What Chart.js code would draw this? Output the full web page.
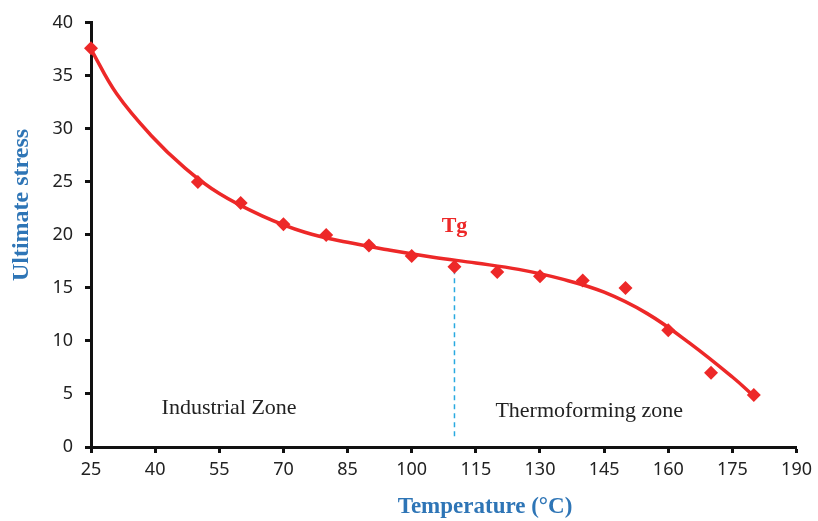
<!DOCTYPE html>
<html lang="en">
<head>
    <meta charset="UTF-8">
    <title>Ultimate stress vs Temperature</title>
    <script src="https://cdn.jsdelivr.net/npm/chart.js"></script>
    <style>
        html, body { margin: 0; padding: 0; background: #fff; }
        #wrap { width: 818px; height: 521px; }
    </style>
</head>
<body>
    <div id="wrap"><canvas id="stress-chart"></canvas></div>

    <script>
        // measured points
        const temps = [25, 50, 60, 70, 80, 90, 100, 110, 120, 130, 140, 150, 160, 170, 180];
        const stress = [37.6, 25, 23, 21, 20, 19, 18, 17, 16.5, 16.1, 15.7, 15, 11, 7, 4.9];

        // trend curve
        const trendTemps = [25, 31, 39, 47, 55, 65, 75, 85, 95, 105, 115, 125, 135, 145, 155, 165, 175, 180];
        const trendStress = [37.5, 33.3, 29.4, 26.3, 23.9, 21.8, 20.25, 19.3, 18.55, 17.9, 17.35, 16.75, 15.85, 14.6, 12.6, 9.8, 6.6, 4.8];

        // Tg marker line
        const tgTemp = 110;
        const tgLine = [17.6, 1];

        const xTicks = [25, 40, 55, 70, 85, 100, 115, 130, 145, 160, 175, 190];

        const red = '#ED2828';
        const blue = '#2E75B6';

        const toPoints = (xs, ys) => xs.map((x, i) => ({ x: x, y: ys[i] }));

        // axis titles and zone labels
        const labelsPlugin = {
            id: 'labels',
            afterDraw(chart) {
                const ctx = chart.ctx;
                const xs = chart.scales.x;
                const ys = chart.scales.y;
                ctx.save();
                ctx.textBaseline = 'middle';
                ctx.textAlign = 'center';

                ctx.fillStyle = blue;
                ctx.font = 'bold 23px "Liberation Serif"';
                ctx.fillText('Temperature (°C)', 485, 507);

                ctx.save();
                ctx.translate(22, 205);
                ctx.rotate(-Math.PI / 2);
                ctx.font = 'bold 24px "Liberation Serif"';
                ctx.fillText('Ultimate stress', 0, 0);
                ctx.restore();

                ctx.fillStyle = red;
                ctx.font = 'bold 22px "Liberation Serif"';
                ctx.fillText('Tg', xs.getPixelForValue(110), ys.getPixelForValue(20.8));

                ctx.fillStyle = '#222';
                ctx.font = '22px "Liberation Serif"';
                ctx.fillText('Industrial Zone', xs.getPixelForValue(57.3), ys.getPixelForValue(3.7));
                ctx.fillText('Thermoforming zone', xs.getPixelForValue(141.5), ys.getPixelForValue(3.4));
                ctx.restore();
            }
        };

        new Chart(document.getElementById('stress-chart'), {
            type: 'scatter',
            data: {
                datasets: [
                    {
                        label: 'Ultimate stress',
                        data: toPoints(temps, stress),
                        pointStyle: 'rectRot',
                        pointRadius: 7,
                        backgroundColor: red,
                        borderColor: red,
                        borderWidth: 0,
                        showLine: false,
                        clip: false
                    },
                    {
                        label: 'Trend',
                        data: toPoints(trendTemps, trendStress),
                        showLine: true,
                        borderColor: red,
                        borderWidth: 3.5,
                        pointRadius: 0,
                        tension: 0.4,
                        clip: false
                    },
                    {
                        label: 'Tg',
                        data: toPoints([tgTemp, tgTemp], tgLine),
                        showLine: true,
                        borderColor: '#29A9E0',
                        borderWidth: 1.5,
                        borderDash: [5, 4],
                        pointRadius: 0
                    }
                ]
            },
            options: {
                responsive: true,
                maintainAspectRatio: false,
                animation: false,
                layout: { padding: { top: 16, right: 21, left: 0, bottom: 0 } },
                plugins: {
                    legend: { display: false },
                    tooltip: { enabled: false }
                },
                scales: {
                    x: {
                        type: 'linear',
                        min: 25,
                        max: 190,
                        afterBuildTicks: s => { s.ticks = xTicks.map(v => ({ value: v })); },
                        afterFit: s => { s.height = 74; },
                        border: { display: true, color: '#111', width: 3 },
                        grid: { drawOnChartArea: false, drawTicks: true, tickLength: 6, tickWidth: 3, tickColor: '#111' },
                        ticks: { color: '#222', font: { family: 'Noto Sans', size: 18 }, padding: 6, maxRotation: 0 }
                    },
                    y: {
                        min: 0,
                        max: 40,
                        afterFit: s => { s.width = 91; },
                        border: { display: true, color: '#111', width: 3 },
                        grid: { drawOnChartArea: false, drawTicks: true, tickLength: 6, tickWidth: 3, tickColor: '#111' },
                        ticks: { stepSize: 5, color: '#222', font: { family: 'Noto Sans', size: 18 }, padding: 12 }
                    }
                }
            },
            plugins: [labelsPlugin]
        });
    </script>
</body>
</html>
